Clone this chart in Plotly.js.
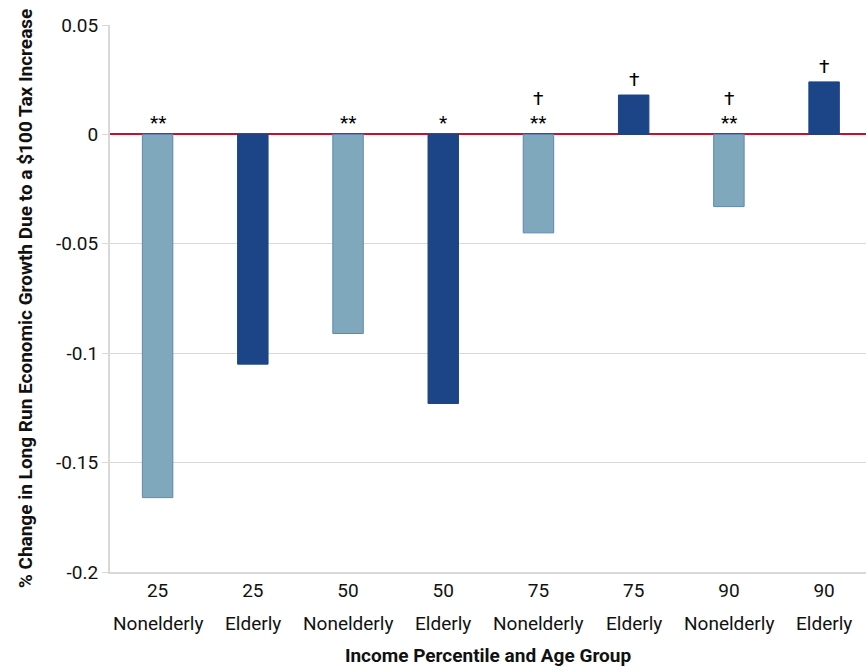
<!DOCTYPE html>
<html><head><meta charset="utf-8">
<script src="https://cdn.plot.ly/plotly-3.0.1.min.js"></script>
<style>html,body{margin:0;padding:0;background:#fff;}</style>
</head><body>
<div id="chart" style="width:866px;height:667px;"></div>
<script>
const percentiles = ["25","25","50","50","75","75","90","90"];
const groups = ["Nonelderly","Elderly","Nonelderly","Elderly","Nonelderly","Elderly","Nonelderly","Elderly"];
const values = [-0.166, -0.105, -0.091, -0.123, -0.045, 0.018, -0.033, 0.024];
const significance = ["**", "", "**", "*", "**", "", "**", ""];
const daggers = ["", "", "", "", "†", "†", "†", "†"];
const yTicks = [0.05, 0, -0.05, -0.1, -0.15, -0.2];
const yTickText = ["0.05", "0", "-0.05", "-0.1", "-0.15", "-0.2"];

const cats = percentiles.map((p, i) => p + " " + groups[i]);
const colors = groups.map(g => g === "Elderly" ? "#1c4587" : "#7fa8bd");
const lineColors = groups.map(g => g === "Elderly" ? "#1c4587" : "#5f86b3");
const font = "Roboto, 'Liberation Sans', Arial, sans-serif";

const annotations = [];
cats.forEach((c, i) => {
  const top = Math.max(0, values[i]);
  let off = 0;
  if (significance[i]) {
    annotations.push({x: c, y: top, xref: 'x', yref: 'y', text: significance[i], showarrow: false,
      yanchor: 'bottom', yshift: -2, font: {family: font, size: 19, color: '#000'}});
    off = 20;
  }
  if (daggers[i]) {
    annotations.push({x: c, y: top, xref: 'x', yref: 'y', text: daggers[i], showarrow: false,
      yanchor: 'bottom', yshift: off + 2, font: {family: font, size: 19, color: '#000'}});
  }
  annotations.push({x: c, y: 0, xref: 'x', yref: 'paper', text: groups[i], showarrow: false,
    yanchor: 'top', yshift: -38, font: {family: font, size: 19, color: '#111'}});
});

const trace = {
  type: 'bar', x: cats, y: values, width: 0.32,
  marker: {color: colors, line: {color: lineColors, width: 1}},
  hoverinfo: 'x+y'
};

const layout = {
  width: 866, height: 667,
  margin: {l: 110, r: 0, t: 25, b: 95},
  paper_bgcolor: '#fff', plot_bgcolor: '#fff',
  showlegend: false,
  font: {family: font, size: 18, color: '#111'},
  xaxis: {
    type: 'category', range: [-0.5, 7.44],
    tickvals: cats, ticktext: percentiles,
    showgrid: false, zeroline: false,
    showline: true, linecolor: '#d9d9d9', linewidth: 2,
    ticks: '', ticklen: 0,
    tickfont: {family: font, size: 19, color: '#111'},
    title: {text: '<b>Income Percentile and Age Group</b>', font: {family: font, size: 19, color: '#111'}, standoff: 50}
  },
  yaxis: {
    range: [-0.2, 0.05], tickvals: yTicks, ticktext: yTickText,
    showgrid: true, gridcolor: '#d9d9d9', gridwidth: 1,
    zeroline: true, zerolinecolor: '#c8102e', zerolinewidth: 2,
    showline: true, linecolor: '#d9d9d9', linewidth: 2,
    ticks: 'outside', ticklen: 6, tickcolor: '#d9d9d9',
    tickfont: {family: font, size: 19, color: '#111'},
    title: {text: '<b>% Change in Long Run Economic Growth Due to a $100 Tax Increase</b>', font: {family: font, size: 19, color: '#111'}, standoff: 18}
  },
  annotations: annotations,
  bargap: 0.68
};

Plotly.newPlot('chart', [trace], layout, {displayModeBar: false, staticPlot: true});
</script>
</body></html>
